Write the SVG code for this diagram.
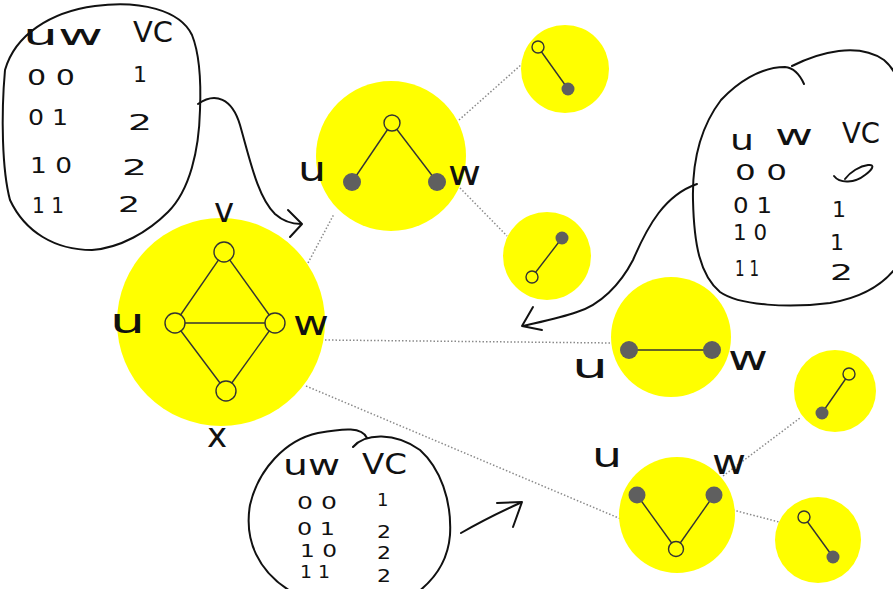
<svg xmlns="http://www.w3.org/2000/svg" width="893" height="589" viewBox="0 0 893 589">
  <style>
    .disc { fill: #ffff00; }
    .edge { stroke: #333; stroke-width: 1.4; fill: none; }
    .open { fill: #ffff00; stroke: #333; stroke-width: 1.4; }
    .full { fill: #5f5f5f; }
    .link { stroke: #8a8a8a; stroke-width: 1.5; stroke-dasharray: 1.5 2; fill: none; }
    .ink { stroke: #111; stroke-width: 2; fill: none; stroke-linecap: round; stroke-linejoin: round; }
    .hand { font-family: "DejaVu Sans", "Liberation Sans", sans-serif; fill: #111; }
    .lbl { font-size: 34px; }
    .tab { font-size: 22px; }
    .tab-s { font-size: 18px; }
    .head { font-size: 28px; }
  </style>
  <rect width="893" height="589" fill="#ffffff"/>

  <!-- dotted connectors between the graphs -->
  <g id="connectors">
    <line class="link" x1="308" y1="263" x2="334" y2="214"/>
    <line class="link" x1="459" y1="120" x2="522" y2="64"/>
    <line class="link" x1="460" y1="188" x2="507" y2="236"/>
    <line class="link" x1="325" y1="340" x2="612" y2="343"/>
    <line class="link" x1="306" y1="386" x2="621" y2="519"/>
    <line class="link" x1="723" y1="476" x2="800" y2="418"/>
    <line class="link" x1="733" y1="510" x2="779" y2="522"/>
  </g>

  <!-- full graph: diamond with chord u-w -->
  <g id="g-main">
    <circle class="disc" cx="221" cy="322" r="104"/>
    <line class="edge" x1="224" y1="252" x2="175" y2="323"/>
    <line class="edge" x1="224" y1="252" x2="275" y2="323"/>
    <line class="edge" x1="175" y1="323" x2="275" y2="323"/>
    <line class="edge" x1="175" y1="323" x2="226" y2="391"/>
    <line class="edge" x1="275" y1="323" x2="226" y2="391"/>
    <circle class="open" cx="224" cy="252" r="10"/>
    <circle class="open" cx="175" cy="323" r="10"/>
    <circle class="open" cx="275" cy="323" r="10"/>
    <circle class="open" cx="226" cy="391" r="10"/>
    <text class="hand lbl" x="224" y="222" text-anchor="middle">v</text>
    <text class="hand lbl" x="110" y="333" textLength="35" lengthAdjust="spacingAndGlyphs">u</text>
    <text class="hand lbl" x="293" y="335" textLength="36" lengthAdjust="spacingAndGlyphs">w</text>
    <text class="hand lbl" x="217" y="447" text-anchor="middle">x</text>
  </g>

  <!-- path u-v-w -->
  <g id="g-uvw">
    <circle class="disc" cx="391" cy="156" r="75"/>
    <line class="edge" x1="392" y1="123" x2="352" y2="182"/>
    <line class="edge" x1="392" y1="123" x2="437" y2="182"/>
    <circle class="open" cx="392" cy="123" r="8"/>
    <circle class="full" cx="352" cy="182" r="9"/>
    <circle class="full" cx="437" cy="182" r="9"/>
    <text class="hand lbl" x="298" y="181" textLength="28" lengthAdjust="spacingAndGlyphs">u</text>
    <text class="hand lbl" x="448" y="185" textLength="33" lengthAdjust="spacingAndGlyphs">w</text>
  </g>

  <g id="g-uvw-a">
    <circle class="disc" cx="565" cy="69" r="44"/>
    <line class="edge" x1="538" y1="47" x2="568" y2="89"/>
    <circle class="open" cx="538" cy="47" r="6"/>
    <circle class="full" cx="568" cy="89" r="6.5"/>
  </g>

  <g id="g-uvw-b">
    <circle class="disc" cx="547" cy="256" r="44"/>
    <line class="edge" x1="562" y1="238" x2="532" y2="277"/>
    <circle class="full" cx="562" cy="238" r="6.5"/>
    <circle class="open" cx="532" cy="277" r="6"/>
  </g>

  <!-- edge u-w -->
  <g id="g-uw">
    <circle class="disc" cx="671" cy="337" r="60"/>
    <line class="edge" x1="629" y1="350" x2="712" y2="350"/>
    <circle class="full" cx="629" cy="350" r="9"/>
    <circle class="full" cx="712" cy="350" r="9"/>
    <text class="hand lbl" x="572" y="378" textLength="36" lengthAdjust="spacingAndGlyphs">u</text>
    <text class="hand lbl" x="728" y="370" textLength="40" lengthAdjust="spacingAndGlyphs">w</text>
  </g>

  <!-- path u-x-w -->
  <g id="g-uxw">
    <circle class="disc" cx="677" cy="515" r="58"/>
    <line class="edge" x1="637" y1="495" x2="676" y2="549"/>
    <line class="edge" x1="714" y1="495" x2="676" y2="549"/>
    <circle class="full" cx="637" cy="495" r="8.5"/>
    <circle class="full" cx="714" cy="495" r="8.5"/>
    <circle class="open" cx="676" cy="549" r="7.5"/>
    <text class="hand lbl" x="592" y="467" textLength="30" lengthAdjust="spacingAndGlyphs">u</text>
    <text class="hand lbl" x="712" y="474" textLength="34" lengthAdjust="spacingAndGlyphs">w</text>
  </g>

  <g id="g-uxw-a">
    <circle class="disc" cx="835" cy="391" r="41"/>
    <line class="edge" x1="849" y1="374" x2="822" y2="413"/>
    <circle class="open" cx="849" cy="374" r="6"/>
    <circle class="full" cx="822" cy="413" r="6.5"/>
  </g>

  <g id="g-uxw-b">
    <circle class="disc" cx="818" cy="540" r="43"/>
    <line class="edge" x1="804" y1="517" x2="833" y2="557"/>
    <circle class="open" cx="804" cy="517" r="6"/>
    <circle class="full" cx="833" cy="557" r="6.5"/>
  </g>

  <!-- table for the u-v-w branch -->
  <g id="note-uvw">
    <path class="ink" d="M 5,70 C 15,35 50,12 95,6 C 140,0 180,10 192,35 C 200,55 201,85 200,110 C 199,150 190,190 168,212 C 148,232 120,248 92,250 C 55,250 25,232 10,200 C 2,170 1,115 5,70"/>
    <path class="ink" d="M 198,104 C 215,92 232,98 240,125 C 250,160 258,198 275,214 C 284,222 292,224 301,224"/>
    <path class="ink" d="M 288,210 L 302,224 L 290,237"/>
    <text class="hand head" x="23" y="45" textLength="80" lengthAdjust="spacingAndGlyphs">uw</text>
    <text class="hand head" x="133" y="42" textLength="40" lengthAdjust="spacingAndGlyphs">VC</text>
    <text class="hand tab" x="27" y="85" textLength="48" lengthAdjust="spacingAndGlyphs">0 0</text>
    <text class="hand tab" x="133" y="82">1</text>
    <text class="hand tab" x="28" y="125" textLength="40" lengthAdjust="spacingAndGlyphs">0 1</text>
    <text class="hand tab" x="128" y="130" textLength="24" lengthAdjust="spacingAndGlyphs">2</text>
    <text class="hand tab" x="30" y="173" textLength="42" lengthAdjust="spacingAndGlyphs">1 0</text>
    <text class="hand tab" x="122" y="175" textLength="25" lengthAdjust="spacingAndGlyphs">2</text>
    <text class="hand tab" x="32" y="213" textLength="32" lengthAdjust="spacingAndGlyphs">1 1</text>
    <text class="hand tab" x="118" y="212" textLength="22" lengthAdjust="spacingAndGlyphs">2</text>
  </g>

  <!-- table for the u-w branch -->
  <g id="note-uw">
    <path class="ink" d="M 804,84 C 800,75 795,68 785,67 C 760,67 737,83 721,100 C 702,125 692,160 693,200 C 694,245 700,275 720,292 C 740,306 790,308 830,303 C 860,298 885,285 900,262"/>
    <path class="ink" d="M 792,66 C 820,52 858,42 884,60 C 896,70 905,90 906,120"/>
    <path class="ink" d="M 697,184 C 665,195 648,225 633,260 C 620,285 600,305 577,312 C 560,318 540,322 523,326"/>
    <path class="ink" d="M 533,307 L 522,326 L 542,330"/>
    <text class="hand head" x="730" y="150" textLength="24" lengthAdjust="spacingAndGlyphs">u</text>
    <text class="hand head" x="775" y="145" textLength="38" lengthAdjust="spacingAndGlyphs">w</text>
    <text class="hand head" x="842" y="143" textLength="38" lengthAdjust="spacingAndGlyphs">VC</text>
    <text class="hand tab" x="735" y="180" textLength="52" lengthAdjust="spacingAndGlyphs">0 0</text>
    <path class="ink" d="M 834,176 C 840,184 855,183 865,175 C 872,170 876,164 868,165 C 860,166 850,172 845,179"/>
    <text class="hand tab" x="733" y="213" textLength="39" lengthAdjust="spacingAndGlyphs">0 1</text>
    <text class="hand tab" x="832" y="217">1</text>
    <text class="hand tab" x="733" y="240" textLength="34" lengthAdjust="spacingAndGlyphs">1 0</text>
    <text class="hand tab" x="830" y="250">1</text>
    <text class="hand tab" x="735" y="276" textLength="24" lengthAdjust="spacingAndGlyphs">1 1</text>
    <text class="hand tab" x="830" y="280" textLength="23" lengthAdjust="spacingAndGlyphs">2</text>
  </g>

  <!-- table for the u-x-w branch -->
  <g id="note-uxw">
    <path class="ink" d="M 367,438 C 362,427 345,428 318,433 C 285,440 258,470 250,505 C 244,540 258,572 292,592"/>
    <path class="ink" d="M 353,447 C 365,433 395,432 420,450 C 440,468 452,500 450,535 C 448,560 436,578 418,592"/>
    <path class="ink" d="M 461,533 C 480,522 500,512 520,503"/>
    <path class="ink" d="M 497,503 L 522,502 L 513,527"/>
    <text class="hand head" x="283" y="475" textLength="57" lengthAdjust="spacingAndGlyphs">uw</text>
    <text class="hand head" x="362" y="474" textLength="45" lengthAdjust="spacingAndGlyphs">VC</text>
    <text class="hand tab-s" x="297" y="509" textLength="40" lengthAdjust="spacingAndGlyphs">0 0</text>
    <text class="hand tab-s" x="377" y="506">1</text>
    <text class="hand tab-s" x="297" y="535" textLength="38" lengthAdjust="spacingAndGlyphs">0 1</text>
    <text class="hand tab-s" x="377" y="538" textLength="14" lengthAdjust="spacingAndGlyphs">2</text>
    <text class="hand tab-s" x="300" y="557" textLength="37" lengthAdjust="spacingAndGlyphs">1 0</text>
    <text class="hand tab-s" x="377" y="559" textLength="14" lengthAdjust="spacingAndGlyphs">2</text>
    <text class="hand tab-s" x="300" y="578" textLength="30" lengthAdjust="spacingAndGlyphs">1 1</text>
    <text class="hand tab-s" x="377" y="582" textLength="14" lengthAdjust="spacingAndGlyphs">2</text>
  </g>
</svg>
